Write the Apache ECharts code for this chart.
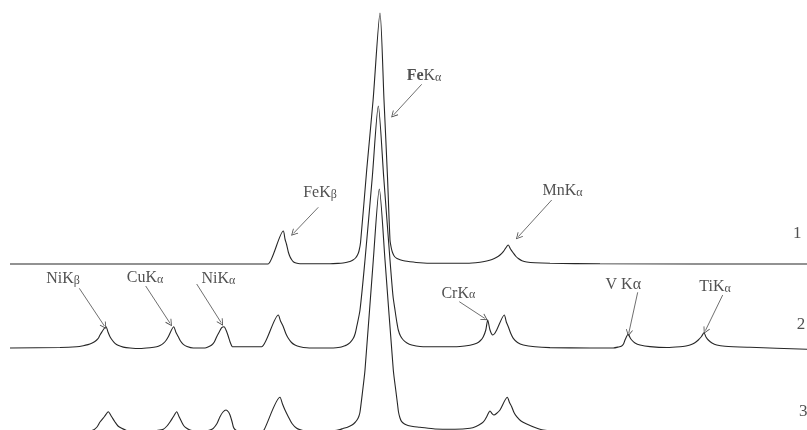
<!DOCTYPE html>
<html>
<head>
<meta charset="utf-8">
<script src="https://cdn.jsdelivr.net/npm/echarts@6/dist/echarts.min.js"></script>
<style>
  html, body { margin: 0; padding: 0; background: #fff; }
  #chart { width: 807px; height: 430px; }
</style>
</head>
<body>
<div id="chart"></div>
<script>
// X-ray fluorescence spectra: [channel, counts above the spectrum's own baseline]
const spectrum1 = [
  [10, 0], [266, 0], [268, 0], [283.3, 33], [285, 25], [286.7, 19], [288.3, 12],
  [290, 7.3], [291.7, 4.3], [293.3, 2.3], [296, 1], [300, 0.3], [330, 0.3],
  [338, 0.6], [343, 1], [347, 1.8], [350, 2.6], [353, 4], [355.5, 6], [357.5, 9],
  [359, 13], [360.6, 22], [366.7, 94], [373.1, 164], [380, 251], [384, 164],
  [387.5, 87], [390, 24], [391.3, 16], [392.5, 11.5], [394.5, 7.5], [397, 5.5],
  [400, 4.3], [405, 3], [410, 2.3], [420, 1.3], [433, 0.8], [466.7, 0.8],
  [480, 1.8], [486.7, 3], [492, 4.5], [496.7, 6.7], [500, 9], [503.3, 12.3],
  [508.3, 19], [510.5, 15], [513.3, 11], [516, 7.5], [518.3, 5.5], [522, 3.3],
  [526.7, 2], [535, 1.2], [550, 0.7], [600, 0.2], [807, 0]
];
const spectrum2 = [
  [10, 0], [60, 0.5], [76.7, 1.3], [83.3, 2.3], [88, 3.4], [91.7, 4.7], [94.5, 6.2],
  [96.7, 8], [98.5, 10], [100, 13], [106, 21.3], [108, 16], [110, 11.3],
  [112.5, 7.5], [115, 4.7], [118, 2.7], [123.3, 0.9], [130, 0], [140, -0.5],
  [150, 0.3], [156.7, 1.3], [160, 2.5], [163.3, 4.7], [166, 7.5], [168.3, 11.3],
  [173.7, 21.3], [176, 15.5], [178.3, 11.3], [180.5, 7], [183.3, 3.7], [187, 1.5],
  [193.3, 0], [205, 0], [208.5, 1.3], [211.7, 3], [214.3, 6], [216.7, 11.3],
  [219.5, 16.5], [221.7, 20.3], [224, 21.3], [226.7, 16.3], [228.5, 11], [230, 6.3],
  [231.3, 3], [232.3, 1.3], [234, 1.3], [260, 1.3], [261.7, 1.3], [278.3, 33],
  [280.5, 27], [283.3, 21.3], [285.8, 14.5], [288.3, 9.7], [291.5, 5.5], [295, 3],
  [300, 1.3], [306.7, 0.3], [320, 0], [333.3, 0], [340, 0.8], [344, 2], [346.7, 3],
  [350, 5.3], [353.3, 9.7], [355.2, 14.5], [356.7, 21.3], [360, 38], [365, 88],
  [372.3, 171], [378.3, 242], [383.7, 171], [390, 88], [393, 52], [395, 38],
  [396.8, 26], [398.3, 18], [400.5, 12], [403.3, 8], [407, 5], [411.7, 3],
  [420, 1.5], [440, 1.2], [460, 1.5], [470, 2.8], [476.7, 4.7], [480.5, 7.5],
  [483.3, 11.3], [485.8, 18], [487.7, 28], [490, 18], [492.7, 13], [494.7, 14.5],
  [496.7, 18], [504.3, 33], [506.3, 26], [508.3, 21.3], [510.8, 14.5], [513.3, 9.7],
  [517.5, 5.5], [523.3, 3], [535, 1.2], [550, 0.4], [590, 0], [613.3, 0],
  [618.5, 1], [621.7, 2], [623.5, 4], [625, 8], [628.3, 14], [630, 10.5],
  [631.7, 8], [635, 5], [640, 3], [650, 1.4], [666.7, 0.5], [680, 1.2], [686, 2],
  [690, 3], [694.5, 5], [698.3, 8], [701.5, 11.5], [704, 15.3], [706, 11],
  [708.3, 8], [712, 5], [716.7, 3], [725, 1.8], [750, 0.7], [807, -1.3]
];
const spectrum3 = [
  [10, 0], [85, 0.5], [93.3, 2], [97, 5], [100, 10], [104.5, 15.5], [108.3, 20.3],
  [111.5, 15.5], [115, 10], [118, 6], [121.7, 3.7], [126, 1.8], [130, 1], [150, 1],
  [158, 1.6], [163.3, 2.7], [167, 6], [170, 10], [173.5, 15.5], [176.7, 20.3],
  [179, 15.5], [181.7, 10], [184, 6], [186.7, 3.7], [190, 2], [195, 1], [205, 1],
  [210, 2], [213.3, 3.7], [217, 8.5], [220, 15.3], [223, 20], [226, 22],
  [228.5, 20], [230, 17], [232, 10.5], [233.3, 5.3], [235, 2.5], [237, 1.5],
  [262, 1.5], [264, 2], [280, 34.7], [282.5, 28], [285, 22], [288.3, 15.3],
  [292, 8.5], [296.7, 3.7], [302, 1.8], [310, 1], [335, 1.5], [340, 2.5],
  [343, 3.5], [348, 5], [352, 7], [355, 9.5], [357, 12], [358.8, 15.5], [360, 20],
  [362.5, 40], [365, 62], [373.3, 172], [379.3, 243], [385, 172], [393.3, 62],
  [396, 40], [397.5, 28], [398.5, 20], [400, 14], [401.7, 10.3], [404.5, 8],
  [408, 6.5], [413, 5.5], [420, 4.8], [435, 3], [455, 2.8], [470, 3.7],
  [476, 5.5], [481.7, 8.7], [484.5, 11.5], [486.7, 15.3], [490, 21], [492, 18.5],
  [494, 17], [496.5, 18.5], [500, 22], [507.3, 34.7], [509.5, 29.5], [511.7, 25.3],
  [514, 19.5], [516.7, 15.3], [521, 11], [526.7, 8], [535, 4.5], [543.3, 2],
  [560, 0.5], [807, 0]
];

// vertical offsets stacking the spectra one above another
const offsets = [166, 82, -2];
const curveNumbers = ['1', '2', '3'];

// peak identifications (rich-text name)
const peakNames = [
  '{b|Fe}{t|K}{a|α}', '{t|FeK}{g|β}', '{t|MnK}{a|α}',
  '{t|NiK}{g|β}', '{t|CuK}{a|α}', '{t|NiK}{a|α}',
  '{t|CrK}{a|α}', '{t|V K}{A|α}', '{t|TiK}{a|α}'
];
// where each name sits and where its leader arrow runs (chart units)
const peakNameAnchors = [
  [424, 355], [320, 238.3], [562.5, 240],
  [63, 152.3], [145, 153.3], [218.3, 152.3],
  [458.3, 137.7], [623.3, 146.7], [715, 144.3]
];
const arrowFrom = [
  [421.7, 345.7], [318.3, 222.7], [551.7, 230],
  [79.3, 141.7], [145.7, 144], [196.7, 146],
  [459.3, 128.3], [637.7, 137.7], [722.7, 135]
];
const arrowTo = [
  [393.5, 315], [293.5, 196.7], [518.3, 193.3],
  [104.4, 104], [170, 106.8], [221.2, 107.3],
  [484.8, 111.6], [628.8, 97], [705.4, 99.4]
];
const curveNumberAnchors = [[797.3, 196.7], [801, 105], [803.3, 18.3]];

const serif = 'Liberation Serif, Times New Roman, serif';
const ink = '#262626';

const chart = echarts.init(document.getElementById('chart'), null, { renderer: 'canvas' });

const shift = (pts, off) => pts.map(p => [p[0], p[1] + off]);
const spectra = [spectrum1, spectrum2, spectrum3];

const lineSeries = spectra.map((s, i) => ({
  type: 'line',
  name: curveNumbers[i],
  data: shift(s, offsets[i]),
  showSymbol: false,
  symbol: 'none',
  smooth: 0.25,
  clip: true,
  silent: true,
  lineStyle: { color: ink, width: 1.1 }
}));

const richStyles = {
  t: { fontFamily: serif, fontSize: 16, color: ink, lineHeight: 18, verticalAlign: 'bottom' },
  b: { fontFamily: serif, fontSize: 16, color: ink, lineHeight: 18, fontWeight: 'bold', verticalAlign: 'bottom' },
  a: { fontFamily: serif, fontSize: 12, color: ink, lineHeight: 15, verticalAlign: 'bottom' },
  A: { fontFamily: serif, fontSize: 16, color: ink, lineHeight: 18, verticalAlign: 'bottom' },
  g: { fontFamily: serif, fontSize: 12, color: ink, lineHeight: 11, verticalAlign: 'bottom' },
  n: { fontFamily: serif, fontSize: 17, color: ink, lineHeight: 18 }
};

const arrowHead = 'path://M5,0L10,8.6L9.1,9.3L5,2.3L0.9,9.3L0,8.6Z';

const annotationSeries = {
  type: 'scatter',
  silent: true,
  symbol: 'circle',
  symbolSize: 1,
  itemStyle: { color: 'rgba(0,0,0,0)' },
  label: {
    show: true,
    position: 'inside',
    align: 'center',
    verticalAlign: 'middle',
    rich: richStyles
  },
  labelLayout: { hideOverlap: false },
  data: peakNames.map((name, i) => ({
    value: peakNameAnchors[i],
    label: { formatter: name }
  })).concat(curveNumbers.map((n, i) => ({
    value: curveNumberAnchors[i],
    label: { formatter: '{n|' + n + '}' }
  }))),
  markLine: {
    silent: true,
    animation: false,
    symbol: ['none', arrowHead],
    symbolSize: [7, 7],
    label: { show: false },
    lineStyle: { color: '#4a4a4a', width: 0.8, type: 'solid' },
    data: arrowFrom.map((f, i) => [{ coord: f }, { coord: arrowTo[i] }])
  }
};

chart.setOption({
  animation: false,
  backgroundColor: '#fff',
  grid: { left: 0, right: 0, top: 0, bottom: 0 },
  xAxis: { type: 'value', min: 0, max: 807, show: false },
  yAxis: { type: 'value', min: 0, max: 430, show: false },
  series: lineSeries.concat([annotationSeries])
});
</script>
</body>
</html>
